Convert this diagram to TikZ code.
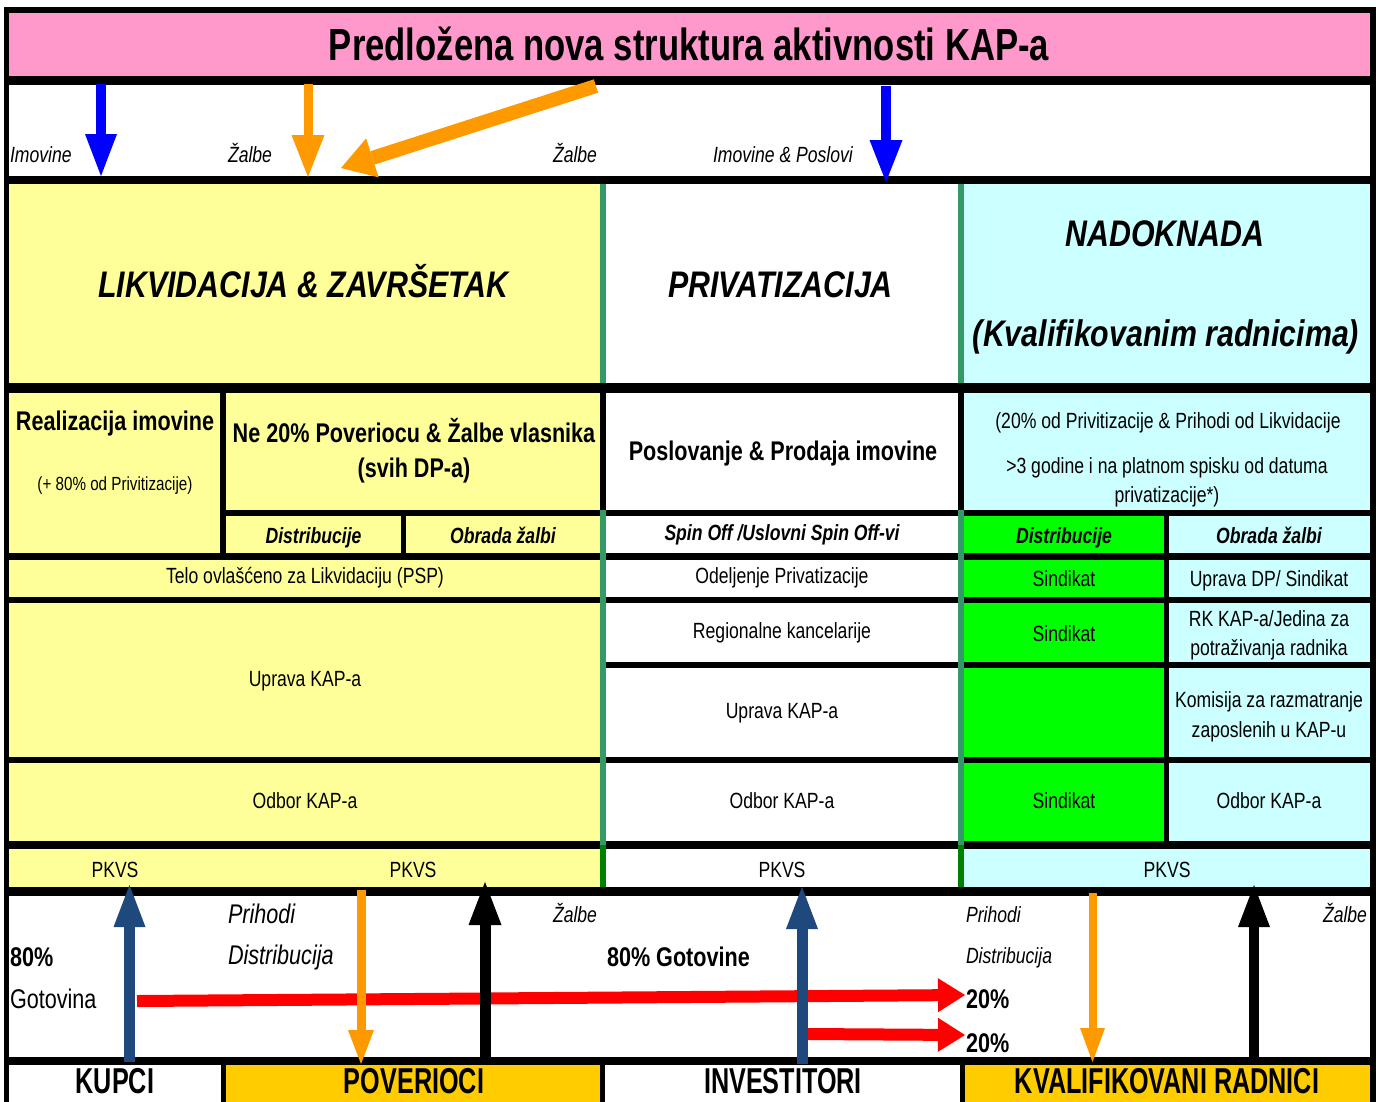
\documentclass[tikz,border=0pt]{standalone}
\usepackage{fontspec}
\setmainfont{Liberation Sans}
\newfontfamily\fN[FakeStretch=0.8]{Liberation Sans}
\newfontfamily\fT[FakeStretch=0.77]{Liberation Sans}
\newfontfamily\fH[FakeStretch=0.82]{Liberation Sans}
\newfontfamily\fB[FakeStretch=0.7]{Liberation Sans}
\usetikzlibrary{arrows.meta}
\definecolor{cpink}{HTML}{FF99CC}
\definecolor{cyel}{HTML}{FFFF99}
\definecolor{ccyan}{HTML}{CCFFFF}
\definecolor{cgreen}{HTML}{00FF00}
\definecolor{cgold}{HTML}{FFCC00}
\definecolor{cteal}{HTML}{339966}
\definecolor{cdkgreen}{HTML}{008000}
\definecolor{corange}{HTML}{FF9900}
\definecolor{cblue}{HTML}{0000FF}
\definecolor{cnavy}{HTML}{1F497D}
\definecolor{cred}{HTML}{FF0000}
\tikzset{
  celltxt/.style={inner sep=0pt, outer sep=0pt, anchor=base, font=\fN\fontsize{22}{26}\selectfont},
  cellbold/.style={celltxt, font=\fN\bfseries\fontsize{27}{32}\selectfont},
  cellbi/.style={celltxt, font=\fN\bfseries\itshape\fontsize{22}{26}\selectfont},
  cellsmall/.style={celltxt, font=\fN\fontsize{19}{23}\selectfont},
  headtxt/.style={celltxt, font=\fH\bfseries\itshape\fontsize{37}{43}\selectfont},
  titletxt/.style={celltxt, font=\fT\bfseries\fontsize{45}{52}\selectfont},
  bottxt/.style={celltxt, font=\fB\bfseries\fontsize{36}{42}\selectfont},
  lblit/.style={celltxt, anchor=base west, font=\fN\itshape\fontsize{22}{26}\selectfont},
  lblbig/.style={celltxt, anchor=base west, font=\fN\itshape\fontsize{27}{32}\selectfont},
  lblbold/.style={celltxt, anchor=base west, font=\fN\bfseries\fontsize{27}{32}\selectfont},
  lblreg/.style={celltxt, anchor=base west, font=\fN\fontsize{27}{32}\selectfont},
  vflow/.style n args={4}{draw=#1, line width=#2, -{Triangle[width=#3,length=#4,line width=0pt]}},
}
\begin{document}
\begin{tikzpicture}[x=1pt,y=-1pt]
\useasboundingbox (0,0) rectangle (1376,1101);
% frame
\fill[black] (4,7) rectangle (1376,1110);
\fill[cpink] (9,13) rectangle (1370,76);
\fill[white] (9,85) rectangle (1370,176);
% row 1
\fill[cyel] (9,184) rectangle (600,383);
\fill[white] (606,184) rectangle (958,383);
\fill[ccyan] (964,184) rectangle (1370,383);
% row 2
\fill[cyel] (9,393) rectangle (220,553);
\fill[cyel] (226,393) rectangle (600,510);
\fill[white] (606,393) rectangle (958,510);
\fill[ccyan] (964,393) rectangle (1370,510);
% row 3
\fill[cyel] (226,516) rectangle (401,553);
\fill[cyel] (406,516) rectangle (600,553);
\fill[white] (606,516) rectangle (958,553);
\fill[cgreen] (964,516) rectangle (1164,553);
\fill[ccyan] (1169,516) rectangle (1370,553);
% row 4
\fill[cyel] (9,560) rectangle (600,597);
\fill[white] (606,560) rectangle (958,597);
\fill[cgreen] (964,560) rectangle (1164,597);
\fill[ccyan] (1169,560) rectangle (1370,597);
% row 5-6
\fill[cyel] (9,603) rectangle (600,757);
\fill[white] (606,603) rectangle (958,662);
\fill[cgreen] (964,603) rectangle (1164,662);
\fill[ccyan] (1169,603) rectangle (1370,662);
\fill[white] (606,668) rectangle (958,757);
\fill[cgreen] (964,668) rectangle (1164,757);
\fill[ccyan] (1169,668) rectangle (1370,757);
% row 7
\fill[cyel] (9,763) rectangle (600,841);
\fill[white] (606,763) rectangle (958,841);
\fill[cgreen] (964,763) rectangle (1164,841);
\fill[ccyan] (1169,763) rectangle (1370,841);
% row 8
\fill[cyel] (9,849) rectangle (600,887);
\fill[white] (606,849) rectangle (958,887);
\fill[ccyan] (964,849) rectangle (1370,887);
% row 9
\fill[white] (9,896) rectangle (1370,1057);
% row 10
\fill[white] (9,1065) rectangle (221,1110);
\fill[cgold] (226,1065) rectangle (600,1110);
\fill[white] (605,1065) rectangle (960,1110);
\fill[cgold] (965,1065) rectangle (1370,1110);
% green dividers
\fill[cteal] (600,184) rectangle (606,383);
\fill[cteal] (958,184) rectangle (964,383);
\fill[cteal] (600,510) rectangle (606,845);
\fill[cteal] (958,510) rectangle (964,845);
\fill[cdkgreen] (600,845) rectangle (606,887);
\fill[cdkgreen] (958,845) rectangle (964,887);

% title
\node[titletxt] (title) at (689,60) {Predložena nova struktura aktivnosti KAP-a};
% top labels
\node[lblit] (tImov) at (10,162) {Imovine};
\node[lblit] (tZal1) at (228,162) {Žalbe};
\node[lblit] (tZal2) at (553,162) {Žalbe};
\node[lblit] (tImPo) at (713,162) {Imovine \& Poslovi};
% headings
\node[headtxt] (hLik) at (303.5,297) {LIKVIDACIJA \& ZAVRŠETAK};
\node[headtxt] (hPriv) at (780.5,297) {PRIVATIZACIJA};
\node[headtxt] (hNad) at (1165,246) {NADOKNADA};
\node[headtxt] (hKval) at (1166,346) {(Kvalifikovanim radnicima)};
% row 2
\node[cellbold] (rReal) at (115,430) {Realizacija imovine};
\node[cellsmall] (rReal2) at (115,490) {(+ 80\% od Privitizacije)};
\node[cellbold] (rNe1) at (414,442) {Ne 20\% Poveriocu \& Žalbe vlasnika};
\node[cellbold] (rNe2) at (414,477) {(svih DP-a)};
\node[cellbold] (rPosl) at (783,460) {Poslovanje \& Prodaja imovine};
\node[celltxt] (rNad1) at (1168,428) {(20\% od Privitizacije \& Prihodi od Likvidacije};
\node[celltxt] (rNad2) at (1167,473) {>3 godine i na platnom spisku od datuma};
\node[celltxt] (rNad3) at (1167,502) {privatizacije*)};
% row 3
\node[cellbi] (rDis1) at (313.5,543) {Distribucije};
\node[cellbi] (rObr1) at (503,543) {Obrada žalbi};
\node[cellbi] (rSpin) at (782,540) {Spin Off /Uslovni Spin Off-vi};
\node[cellbi] (rDis2) at (1064,543) {Distribucije};
\node[cellbi] (rObr2) at (1269,543) {Obrada žalbi};
% row 4
\node[celltxt] (rTelo) at (305,583) {Telo ovlašćeno za Likvidaciju (PSP)};
\node[celltxt] (rOdel) at (782,583) {Odeljenje Privatizacije};
\node[celltxt] (rSin1) at (1064,586) {Sindikat};
\node[celltxt] (rUpDP) at (1269,586) {Uprava DP/ Sindikat};
% row 5
\node[celltxt] (rUpL) at (305,686) {Uprava KAP-a};
\node[celltxt] (rReg) at (782,638) {Regionalne kancelarije};
\node[celltxt] (rSin2) at (1064,641) {Sindikat};
\node[celltxt] (rRK1) at (1269,626) {RK KAP-a/Jedina za};
\node[celltxt] (rRK2) at (1269,655) {potraživanja radnika};
% row 6
\node[celltxt] (rUpM) at (782,718) {Uprava KAP-a};
\node[celltxt] (rKom1) at (1269,707) {Komisija za razmatranje};
\node[celltxt] (rKom2) at (1269,737) {zaposlenih u KAP-u};
% row 7
\node[celltxt] (rOdL) at (305,808) {Odbor KAP-a};
\node[celltxt] (rOdM) at (782,808) {Odbor KAP-a};
\node[celltxt] (rSin3) at (1064,808) {Sindikat};
\node[celltxt] (rOdR) at (1269,808) {Odbor KAP-a};
% row 8
\node[celltxt] (pk1) at (115,877) {PKVS};
\node[celltxt] (pk2) at (413,877) {PKVS};
\node[celltxt] (pk3) at (782,877) {PKVS};
\node[celltxt] (pk4) at (1167,877) {PKVS};
% flow labels
\node[lblbig] (fPri1) at (228,923) {Prihodi};
\node[lblbig] (fDis1) at (228,964) {Distribucija};
\node[lblit] (fZal1) at (553,922) {Žalbe};
\node[lblbold] (f80a) at (10,966) {80\%};
\node[lblreg] (fGot) at (10,1008) {Gotovina};
\node[lblbold] (f80b) at (607,966) {80\% Gotovine};
\node[lblbold] (f20a) at (966,1008) {20\%};
\node[lblbold] (f20b) at (966,1052) {20\%};
\node[lblit] (fPri2) at (966,922) {Prihodi};
\node[lblit] (fDis2) at (966,963) {Distribucija};
\node[lblit] (fZal2) at (1323,922) {Žalbe};
% bottom labels
\node[bottxt] (bKup) at (115,1093) {KUPCI};
\node[bottxt] (bPov) at (414,1093) {POVERIOCI};
\node[bottxt] (bInv) at (783,1093) {INVESTITORI};
\node[bottxt] (bKva) at (1167,1093) {KVALIFIKOVANI RADNICI};

% arrow end points
\coordinate (aB1s) at (101,84);    \coordinate (aB1e) at (101,176);
\coordinate (aO1s) at (308,84);    \coordinate (aO1e) at (308,177);
\coordinate (aODs) at (596,86);    \coordinate (aODe) at (341,168);
\coordinate (aB2s) at (886,86);    \coordinate (aB2e) at (886,182);
\coordinate (aR1s) at (137,1001);  \coordinate (aR1e) at (965,995);
\coordinate (aR2s) at (807,1034);  \coordinate (aR2e) at (965,1035);
\coordinate (aN1s) at (129.5,1062); \coordinate (aN1e) at (129.5,885);
\coordinate (aO2s) at (361,890);   \coordinate (aO2e) at (361,1064);
\coordinate (aK1s) at (485,1057);  \coordinate (aK1e) at (485,882);
\coordinate (aN2s) at (802,1064);  \coordinate (aN2e) at (802,887);
\coordinate (aO3s) at (1092.5,893); \coordinate (aO3e) at (1092.5,1062);
\coordinate (aK2s) at (1254,1060); \coordinate (aK2e) at (1254,885);

% top arrows
\draw[vflow={cblue}{10pt}{32pt}{42pt}] (aB1s) -- (aB1e);
\draw[vflow={corange}{9pt}{33pt}{42pt}] (aO1s) -- (aO1e);
\draw[vflow={corange}{14pt}{41pt}{33pt}] (aODs) -- (aODe);
\draw[vflow={cblue}{10pt}{33pt}{42pt}] (aB2s) -- (aB2e);
% bottom arrows
\draw[vflow={cred}{12pt}{34pt}{27pt}] (aR1s) -- (aR1e);
\draw[vflow={cred}{12pt}{34pt}{27pt}] (aR2s) -- (aR2e);
\draw[vflow={cnavy}{11pt}{32pt}{42pt}] (aN1s) -- (aN1e);
\draw[vflow={corange}{9pt}{26pt}{34pt}] (aO2s) -- (aO2e);
\draw[vflow={black}{11pt}{33pt}{43pt}] (aK1s) -- (aK1e);
\draw[vflow={cnavy}{11pt}{32pt}{42pt}] (aN2s) -- (aN2e);
\draw[vflow={corange}{8pt}{25pt}{34pt}] (aO3s) -- (aO3e);
\draw[vflow={black}{10pt}{32pt}{42pt}] (aK2s) -- (aK2e);
\end{tikzpicture}
\end{document}
